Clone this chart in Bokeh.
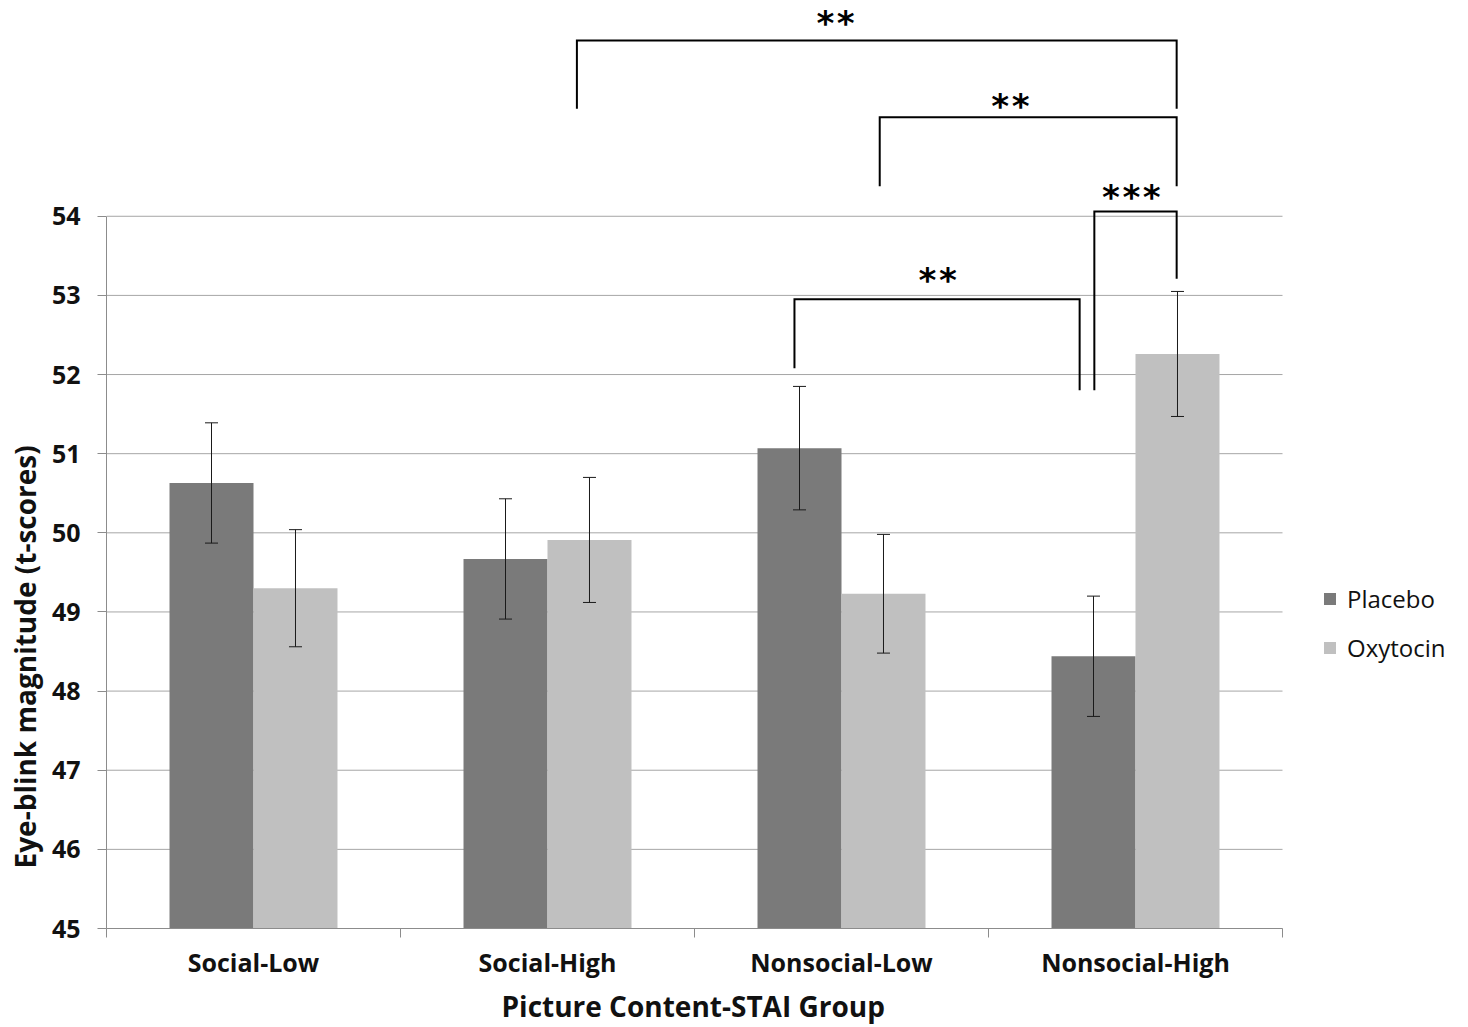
from bokeh.plotting import figure
from bokeh.models import (ColumnDataSource, Range1d, FixedTicker, Whisker, TeeHead,
                          Legend, LegendItem, Title)
from bokeh.core.properties import value
from bokeh.embed import file_html
from bokeh.resources import INLINE

# ---------------- data ----------------
categories = ["Social-Low", "Social-High", "Nonsocial-Low", "Nonsocial-High"]
series = ["Placebo", "Oxytocin"]
placebo = [50.63, 49.67, 51.07, 48.44]
placebo_err = [0.76, 0.76, 0.78, 0.76]
oxytocin = [49.30, 49.91, 49.23, 52.26]
oxytocin_err = [0.74, 0.79, 0.75, 0.79]
y_ticks = [45, 46, 47, 48, 49, 50, 51, 52, 53, 54]

# significance brackets (x in category units, y in t-score units)
bracket_x0 = [1.60, 2.63, 3.36, 2.34]
bracket_x1 = [3.64, 3.64, 3.64, 3.31]
bracket_top = [56.22, 55.25, 54.06, 52.95]
bracket_y0 = [55.36, 54.38, 51.80, 52.08]
bracket_y1 = [55.36, 54.38, 53.21, 51.80]
bracket_label = ["**", "**", "***", "**"]
label_x = [2.48, 3.075, 3.486, 2.827]
label_y = [56.49, 55.44, 54.29, 53.24]

colors = ["#7A7A7A", "#C0C0C0"]
bar_w = 0.2857

# ---------------- layout ----------------
W, H = 1452, 1027
LEFT, BOTTOM = 106, 98
frame_w = W - LEFT
frame_h = H - BOTTOM
cat_px = 294.0
y_px = (frame_h - 216) / 9.0
x_end = frame_w / cat_px
y_end = 54 + 216 / y_px

p = figure(width=W, height=H, x_range=Range1d(0, x_end), y_range=Range1d(45, y_end),
           output_backend="svg", toolbar_location=None,
           min_border_left=LEFT, min_border_right=0, min_border_top=0,
           min_border_bottom=BOTTOM)
p.outline_line_color = None
p.background_fill_color = "white"
p.xgrid.visible = False
p.ygrid.visible = False

# horizontal gridlines limited to the category area
n = len(categories)
p.segment(x0=[0] * len(y_ticks), x1=[n] * len(y_ticks), y0=y_ticks, y1=y_ticks,
          line_color="#A6A6A6", line_width=1)

renderers = []
for s, (vals, errs, col) in enumerate([(placebo, placebo_err, colors[0]),
                                        (oxytocin, oxytocin_err, colors[1])]):
    off = (s - 0.5) * bar_w
    xs = [i + 0.5 + off for i in range(n)]
    src = ColumnDataSource(dict(x=xs, top=vals, cat=categories,
                                upper=[v + e for v, e in zip(vals, errs)],
                                lower=[v - e for v, e in zip(vals, errs)]))
    r = p.vbar(x="x", top="top", bottom=45, width=bar_w, source=src,
               fill_color=col, line_color=None)
    renderers.append(r)
    w = Whisker(source=src, base="x", upper="upper", lower="lower", level="overlay",
                line_color="#1A1A1A", line_width=1,
                upper_head=TeeHead(size=13, line_color="#1A1A1A", line_width=1),
                lower_head=TeeHead(size=13, line_color="#1A1A1A", line_width=1))
    p.add_layout(w)

# significance brackets
xs_b = [[a, a, b, b] for a, b in zip(bracket_x0, bracket_x1)]
ys_b = [[y0, t, t, y1] for y0, t, y1 in zip(bracket_y0, bracket_top, bracket_y1)]
p.multi_line(xs=xs_b, ys=ys_b, line_color="black", line_width=2, line_join="miter")
p.text(x=label_x, y=label_y, text=bracket_label, text_align="center", text_baseline="middle",
       text_font=value("DejaVu Sans Mono"), text_font_style="bold", text_font_size="34px",
       text_color="black", y_offset=4)

# axes
font = "Open Sans"
ax_col = "#8C8C8C"
txt_col = "#111111"
ya = p.yaxis[0]
ya.ticker = FixedTicker(ticks=y_ticks)
ya.bounds = (45, 54)
ya.axis_line_color = ax_col
ya.major_tick_line_color = ax_col
ya.major_tick_out = 9
ya.major_tick_in = 0
ya.minor_tick_line_color = None
ya.major_label_text_font = font
ya.major_label_text_font_style = "bold"
ya.major_label_text_font_size = "25px"
ya.major_label_text_color = txt_col
ya.major_label_standoff = 17

xa = p.xaxis[0]
xa.ticker = FixedTicker(ticks=[i + 0.5 for i in range(n)], minor_ticks=list(range(n + 1)))
xa.major_label_overrides = {i + 0.5: c for i, c in enumerate(categories)}
xa.bounds = (0, n)
xa.axis_line_color = ax_col
xa.major_tick_line_color = None
xa.major_tick_out = 0
xa.major_tick_in = 0
xa.minor_tick_line_color = ax_col
xa.minor_tick_out = 9
xa.minor_tick_in = 0
xa.major_label_text_font = font
xa.major_label_text_font_style = "bold"
xa.major_label_text_font_size = "25px"
xa.major_label_text_color = txt_col
xa.major_label_standoff = 7

# axis titles (as panel titles so they can be positioned like the original)
ytitle = Title(text="Eye-blink magnitude (t-scores)", align="left", offset=60, standoff=8,
               vertical_align="middle",
               text_font=font, text_font_style="bold", text_font_size="28px",
               text_color=txt_col)
p.add_layout(ytitle, "left")
xtitle = Title(text="Picture Content-STAI Group", align="left", offset=395, standoff=6,
               text_font=font, text_font_style="bold", text_font_size="28px",
               text_color=txt_col)
p.add_layout(xtitle, "below")

legend = Legend(items=[LegendItem(label=series[i], renderers=[renderers[i]]) for i in range(2)],
                location=(1216, frame_h - 665), orientation="vertical",
                glyph_width=15, glyph_height=15, label_height=15, spacing=16,
                padding=0, margin=0, border_line_color=None, background_fill_alpha=0,
                label_text_font=font, label_text_font_size="24px",
                label_text_color=txt_col, label_standoff=10)
p.add_layout(legend)

open("out.html", "w").write(file_html(p, INLINE))
